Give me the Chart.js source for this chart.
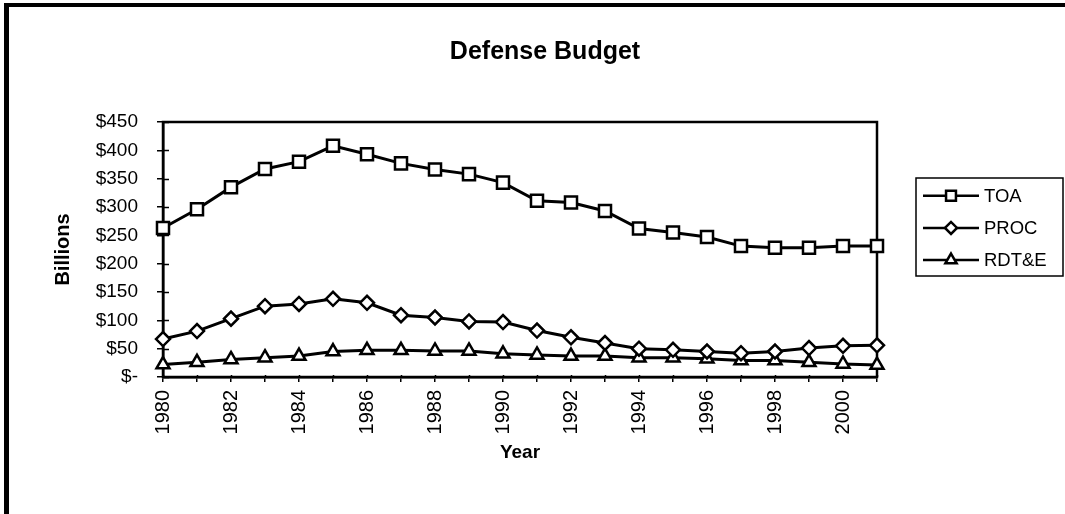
<!DOCTYPE html>
<html>
<head>
<meta charset="utf-8">
<script src="https://cdn.jsdelivr.net/npm/chart.js@4/dist/chart.umd.min.js"></script>
<style>
html,body{margin:0;padding:0;background:#fff;}
#wrap{width:1065px;height:514px;position:relative;}
</style>
</head>
<body>
<div id="wrap"><canvas id="c" width="1065" height="514"></canvas></div>
<script>
// ---- data ----
const years = ['1980','1981','1982','1983','1984','1985','1986','1987','1988','1989','1990',
               '1991','1992','1993','1994','1995','1996','1997','1998','1999','2000','2001'];
const toa  = [263, 296, 335, 367, 380, 408, 393, 377, 366, 358, 343, 311, 308, 293, 262, 255, 247, 231, 228, 228, 231, 231];
const proc = [67, 81, 103, 125, 129, 138, 131, 109, 105, 98, 97, 82, 70, 60, 50, 48, 45, 42, 45, 51, 55, 56];
const rdte = [22, 26, 31, 34, 37, 45, 47, 47, 46, 46, 41, 39, 37, 37, 34, 34, 32, 29, 29, 26, 23, 21];
const seriesNames = ['TOA', 'PROC', 'RDT&E'];
const yMin = 0, yMax = 450, yStep = 50;
const chartTitle = 'Defense Budget';
const xTitle = 'Year';
const yTitle = 'Billions';

// ---- styling ----
const FONT = "'Liberation Sans', Arial, sans-serif";
const BLACK = '#000';

const styles = [
  {pointStyle: 'rect',    radius: 8.5, legendRadius: 7},
  {pointStyle: 'rectRot', radius: 7,   legendRadius: 6},
  {pointStyle: 'triangle',radius: 7.5, legendRadius: 6.5}
];
const seriesData = [toa, proc, rdte];

const datasets = seriesNames.map((name, i) => ({
  label: name,
  data: seriesData[i],
  borderColor: BLACK,
  borderWidth: 3,
  backgroundColor: '#fff',
  pointStyle: styles[i].pointStyle,
  pointRadius: styles[i].radius,
  pointBorderWidth: 2.5,
  pointBorderColor: BLACK,
  pointBackgroundColor: '#fff',
  tension: 0,
  fill: false
}));

const decor = {
  id: 'decor',
  beforeDraw(chart) {
    const ctx = chart.ctx;
    ctx.save();
    ctx.fillStyle = '#fff';
    ctx.fillRect(0, 0, chart.width, chart.height);
    ctx.fillStyle = BLACK;
    ctx.fillRect(4, 3, chart.width - 4, 4);
    ctx.fillRect(4, 3, 5, chart.height - 3);
    ctx.restore();
  },
  beforeDatasetsDraw(chart) {
    const ctx = chart.ctx;
    const ca = chart.chartArea;
    ctx.save();
    ctx.strokeStyle = BLACK;
    ctx.lineWidth = 2.5;
    ctx.strokeRect(ca.left, ca.top, ca.right - ca.left, ca.bottom - ca.top);
    ctx.lineWidth = 1.5;
    const ys = chart.scales.y;
    ys.ticks.forEach((t, i) => {
      const py = Math.round(ys.getPixelForTick(i)) + 0.5;
      ctx.beginPath(); ctx.moveTo(ca.left, py); ctx.lineTo(ca.left + 6, py); ctx.stroke();
    });
    const xs = chart.scales.x;
    xs.ticks.forEach((t, i) => {
      const px = Math.round(xs.getPixelForTick(i)) + 0.5;
      ctx.beginPath(); ctx.moveTo(px, ca.bottom); ctx.lineTo(px, ca.bottom - 2); ctx.stroke();
    });
    ctx.restore();
  },
  afterDraw(chart) {
    const ctx = chart.ctx;
    const ca = chart.chartArea;
    const bx = ca.right + 39, by = 178, bw = 147, bh = 98;
    ctx.save();
    ctx.strokeStyle = BLACK;
    ctx.lineWidth = 1.5;
    ctx.strokeRect(bx, by, bw, bh);
    chart.data.datasets.forEach((ds, i) => {
      const y = by + 17.7 + i * 32.2;
      ctx.strokeStyle = BLACK;
      ctx.lineWidth = 2.5;
      ctx.beginPath(); ctx.moveTo(bx + 7, y); ctx.lineTo(bx + 63, y); ctx.stroke();
      ctx.fillStyle = '#fff';
      ctx.strokeStyle = BLACK;
      ctx.lineWidth = 2.5;
      Chart.helpers.drawPoint(ctx, {pointStyle: ds.pointStyle, rotation: 0, radius: styles[i].legendRadius, borderWidth: 2.5}, bx + 35, y);
      ctx.fillStyle = BLACK;
      ctx.font = '18.5px ' + FONT;
      ctx.textAlign = 'left';
      ctx.textBaseline = 'middle';
      ctx.fillText(ds.label, bx + 68, y + 1);
    });
    ctx.restore();
  }
};

new Chart(document.getElementById('c'), {
  type: 'line',
  data: { labels: years, datasets },
  options: {
    responsive: false,
    animation: false,
    layout: { padding: { left: 25, right: 0, top: 0, bottom: 44 } },
    plugins: {
      legend: { display: false },
      tooltip: { enabled: false },
      title: {
        display: true, text: chartTitle, color: BLACK,
        font: { family: FONT, size: 25, weight: 'bold', lineHeight: 1.2 },
        padding: { top: 37, bottom: 55 }
      }
    },
    scales: {
      x: {
        type: 'category',
        offset: false,
        grid: { display: true, drawOnChartArea: false, drawTicks: true, tickLength: 5, color: BLACK, lineWidth: 1.5 },
        border: { display: true, color: BLACK, width: 2.5 },
        ticks: {
          autoSkip: false, minRotation: 90, maxRotation: 90, padding: 8, color: BLACK,
          font: { family: FONT, size: 20 },
          callback(v, i) { return i % 2 === 0 ? this.getLabelForValue(v) : ''; }
        },
        title: { display: true, text: xTitle, color: BLACK, font: { family: FONT, size: 19, weight: 'bold' }, padding: { top: 0, bottom: 6 } },
        afterFit(s) { s.height = 93; }
      },
      y: {
        min: yMin, max: yMax,
        grid: { display: true, drawOnChartArea: false, drawTicks: true, tickLength: 6, color: BLACK, lineWidth: 1.5 },
        border: { display: true, color: BLACK, width: 2.5 },
        ticks: {
          stepSize: yStep, padding: 19, color: BLACK,
          font: { family: FONT, size: 19 },
          callback: v => v === 0 ? '$-' : '$' + v
        },
        title: { display: true, text: yTitle, color: BLACK, font: { family: FONT, size: 20, weight: 'bold' }, padding: { top: 26, bottom: 0 } },
        afterFit(s) { s.width = 138; }
      },
      yR: {
        position: 'right', display: true,
        grid: { display: false }, border: { display: false }, ticks: { display: false },
        afterFit(s) { s.width = 188; }
      }
    }
  },
  plugins: [decor]
});
</script>
</body>
</html>
